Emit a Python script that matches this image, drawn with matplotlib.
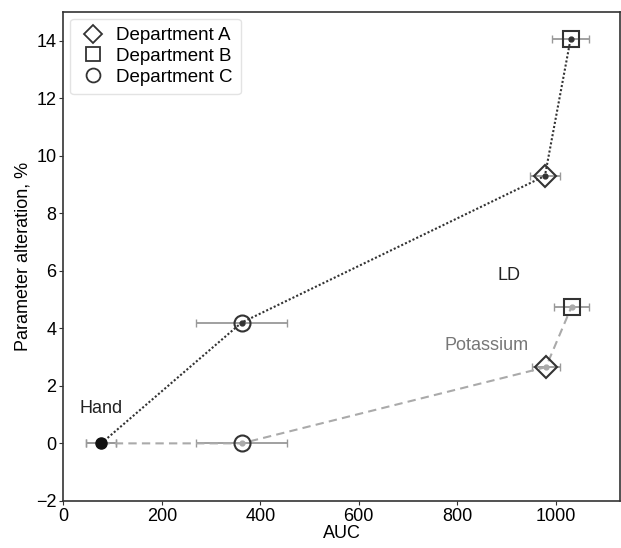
import matplotlib.pyplot as plt
from matplotlib.lines import Line2D

plt.rcParams['font.family'] = ['Liberation Sans', 'DejaVu Sans']

# points in order: Hand, Department C, Department A, Department B
ld_auc = [77, 362, 978, 1030]
ld_auc_err = [30, 93, 30, 37]
ld_values = [0.0, 4.2, 9.3, 14.05]

pot_auc = [77, 362, 980, 1032]
pot_auc_err = [30, 93, 28, 36]
pot_values = [0.0, 0.0, 2.65, 4.75]

departments = ['Department A', 'Department B', 'Department C']
dept_markers = {'Department A': 'D', 'Department B': 's', 'Department C': 'o'}
dept_index = {'Department A': 2, 'Department B': 3, 'Department C': 1}
dept_sizes = {'Department A': 11, 'Department B': 12, 'Department C': 11.5}

fig, ax = plt.subplots(figsize=(6.21, 5.48), dpi=100)
fig.subplots_adjust(left=0.102, right=0.998, top=0.978, bottom=0.086)

series = [
    (pot_auc, pot_auc_err, pot_values, (0, (4, 2.5)), '#aaaaaa', '#aaaaaa'),
    (ld_auc, ld_auc_err, ld_values, (0, (1, 1)), '#333333', '#333333'),
]

for auc, err, vals, ls, lcolor, dcolor in series:
    ax.errorbar(auc, vals, xerr=err, fmt='none', ecolor='#999999',
                elinewidth=1.3, capsize=3, capthick=1.0, zorder=2)
    ax.plot(auc, vals, linestyle=ls, color=lcolor, linewidth=1.5, zorder=3)
    ax.plot(auc[1:], vals[1:], 'o', color=dcolor, markersize=3.5, zorder=5)
    for d in departments:
        i = dept_index[d]
        ax.plot(auc[i], vals[i], marker=dept_markers[d], markersize=dept_sizes[d],
                markerfacecolor='none', markeredgecolor='#333333',
                markeredgewidth=1.5, linestyle='none', zorder=4)

# hand point
ax.plot(ld_auc[0], ld_values[0], 'o', color='#111111', markersize=8, zorder=6)

ax.text(77, 1.2, 'Hand', fontsize=13, ha='center', va='center', color='#222222')
ax.text(905, 5.85, 'LD', fontsize=13, ha='center', va='center', color='#222222')
ax.text(860, 3.4, 'Potassium', fontsize=13, ha='center', va='center', color='#777777')

ax.set_xlim(0, 1130)
ax.set_ylim(-2, 15)
ax.set_xticks([0, 200, 400, 600, 800, 1000])
ax.set_yticks([-2, 0, 2, 4, 6, 8, 10, 12, 14])
ax.set_yticklabels(['\u22122', '0', '2', '4', '6', '8', '10', '12', '14'])
ax.tick_params(labelsize=13, length=3, color='#333333', pad=2)
ax.set_xlabel('AUC', fontsize=13, labelpad=0)
ax.set_ylabel('Parameter alteration, %', fontsize=13, labelpad=3)

for s in ax.spines.values():
    s.set_color('#333333')
    s.set_linewidth(1.2)

handles = [Line2D([], [], marker=dept_markers[d], linestyle='none',
                  markerfacecolor='none', markeredgecolor='#333333',
                  markeredgewidth=1.3, markersize=10 if d != 'Department A' else 9,
                  label=d) for d in departments]
leg = ax.legend(handles=handles, loc='upper left', fontsize=13.5, frameon=True,
                handletextpad=0.4, borderpad=0.45, labelspacing=0.2,
                handlelength=1.6, borderaxespad=0.35)
leg.get_frame().set_edgecolor('#dddddd')

fig.savefig('out.png', dpi=100)
